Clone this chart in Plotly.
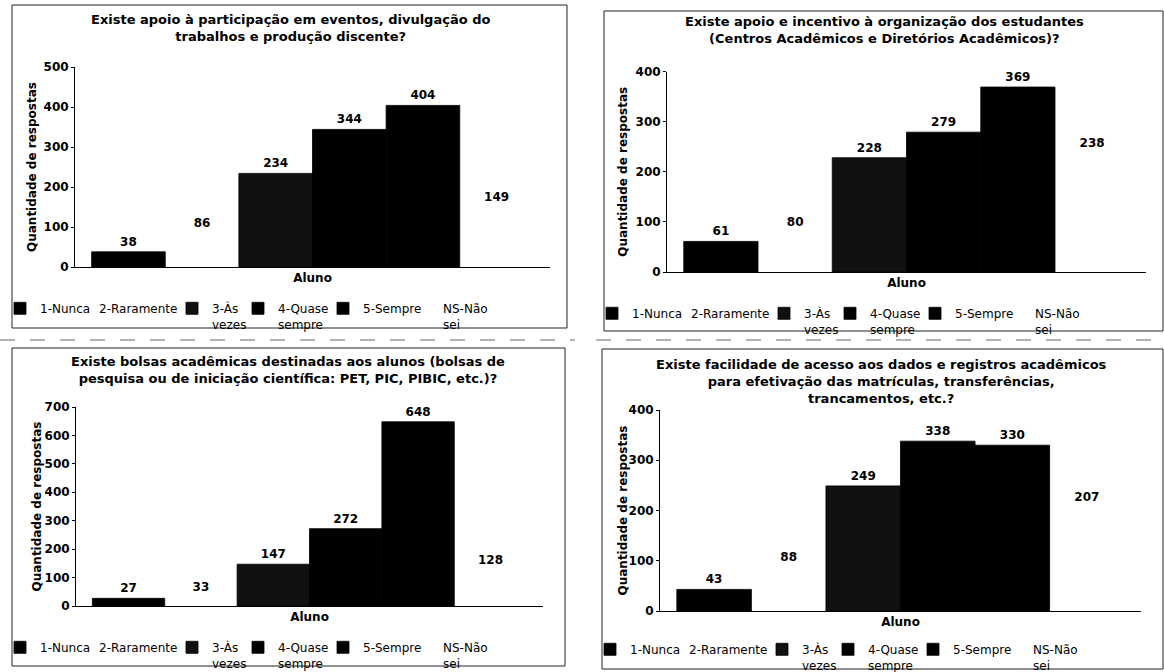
import plotly.graph_objects as go

# ---------------- data ----------------
categories = ["1-Nunca", "2-Raramente", "3-Às vezes", "4-Quase sempre", "5-Sempre", "NS-Não sei"]
legend_labels = ["1-Nunca", "2-Raramente", "3-Às<br>vezes", "4-Quase<br>sempre", "5-Sempre", "NS-Não<br>sei"]
group_label = ["Aluno"]

titles = [
    "Existe apoio à participação em eventos, divulgação do<br>trabalhos e produção discente?",
    "Existe apoio e incentivo à organização dos estudantes<br>(Centros Acadêmicos e Diretórios Acadêmicos)?",
    "Existe bolsas acadêmicas destinadas aos alunos (bolsas de<br>pesquisa ou de iniciação científica: PET, PIC, PIBIC, etc.)?",
    "Existe facilidade de acesso aos dados e registros acadêmicos<br>para efetivação das matrículas, transferências,<br>trancamentos, etc.?",
]
y_title = "Quantidade de respostas"

values_apoio_eventos = [38, 86, 234, 344, 404, 149]
values_org_estudantes = [61, 80, 228, 279, 369, 238]
values_bolsas = [27, 33, 147, 272, 648, 128]
values_acesso_dados = [43, 88, 249, 338, 330, 207]
panel_values = [values_apoio_eventos, values_org_estudantes, values_bolsas, values_acesso_dados]
y_max = [500, 400, 700, 400]

# ---------------- style / layout ----------------
W, H = 1164, 672
FONT = "DejaVu Sans"
bar_colors = ["#000000", "rgba(255,255,255,0)", "#111111", "#000000", "#000000", "rgba(255,255,255,0)"]
bar_line_w = [0.8, 0, 0.8, 0.8, 0.8, 0]
legend_widths = [14, 68, 21, 40, 35, 50]

panels = [
    dict(box=(12, 5, 567, 328), plot=(75, 67, 550, 267), title_xy=(290, 27.5),
         ytitle_x=32, legend_xy=(0, 294)),
    dict(box=(604, 11, 1163, 331), plot=(667, 71.5, 1146, 272), title_xy=(884, 29.5),
         ytitle_x=623, legend_xy=(592, 299)),
    dict(box=(12, 348, 565, 666), plot=(76, 407, 543, 606), title_xy=(288, 370),
         ytitle_x=36, legend_xy=(0, 633)),
    dict(box=(602, 349, 1163, 669), plot=(660, 410, 1141, 611), title_xy=(881, 381),
         ytitle_x=622, legend_xy=(590, 635)),
]


def fx(x):
    return x / W


def fy(y):
    return 1 - y / H


fig = go.Figure()
layout_extra = {}
annotations = []
shapes = []

for i, (vals, p) in enumerate(zip(panel_values, panels)):
    k = "" if i == 0 else str(i + 1)
    leg = "legend" if i == 0 else f"legend{i + 1}"
    for j, cat in enumerate(categories):
        fig.add_trace(go.Bar(
            x=group_label, y=[vals[j]], name=legend_labels[j],
            marker=dict(color=bar_colors[j], line=dict(color="#000", width=bar_line_w[j])),
            text=[vals[j]], textposition="outside", cliponaxis=False,
            textfont=dict(family=FONT, size=12, color="#000", weight="bold"),
            xaxis="x" + k, yaxis="y" + k, legend=leg, legendwidth=legend_widths[j],
            hovertemplate=cat + ": %{y}<extra></extra>",
        ))
    x0, y0, x1, y1 = p["plot"]
    layout_extra["xaxis" + k] = dict(
        domain=[fx(x0), fx(x1)], anchor="y" + k, type="category", range=[-0.5, 0.5],
        showline=True, linecolor="#000", linewidth=1, ticks="", showgrid=False,
        tickfont=dict(family=FONT, size=12, color="#000", weight="bold"), automargin=False,
    )
    layout_extra["yaxis" + k] = dict(
        domain=[fy(y1), fy(y0)], anchor="x" + k, range=[0, y_max[i]], dtick=100,
        showline=True, linecolor="#000", linewidth=1, ticks="outside", ticklen=3, tickcolor="#000",
        showgrid=False, zeroline=False,
        tickfont=dict(family=FONT, size=12, color="#000", weight="bold"), automargin=False,
    )
    lx, ly = p["legend_xy"]
    layout_extra[leg] = dict(
        orientation="h", x=fx(lx), y=fy(ly), xanchor="left", yanchor="top",
        font=dict(family=FONT, size=12, color="#000"), bgcolor="rgba(0,0,0,0)",
        valign="top", itemwidth=30, traceorder="normal", borderwidth=0,
    )
    tx, ty = p["title_xy"]
    annotations.append(dict(
        text=titles[i], x=fx(tx), y=fy(ty), xref="paper", yref="paper",
        xanchor="center", yanchor="middle", showarrow=False,
        font=dict(family=FONT, size=13, color="#000", weight="bold"),
    ))
    annotations.append(dict(
        text=y_title, x=fx(p["ytitle_x"]), y=fy((y0 + y1) / 2), xref="paper", yref="paper",
        xanchor="center", yanchor="middle", showarrow=False, textangle=-90,
        font=dict(family=FONT, size=12, color="#000", weight="bold"),
    ))
    bx0, by0, bx1, by1 = p["box"]
    shapes.append(dict(type="rect", xref="paper", yref="paper",
                       x0=fx(bx0), x1=fx(bx1), y0=fy(by1), y1=fy(by0),
                       line=dict(color="#222", width=1), fillcolor="rgba(0,0,0,0)"))

# faint scan separator lines between the rows
for sx0, sx1 in [(0, 575), (596, 1164)]:
    shapes.append(dict(type="line", xref="paper", yref="paper",
                       x0=fx(sx0), x1=fx(sx1), y0=fy(340), y1=fy(340),
                       line=dict(color="#666", width=1, dash="longdash")))

fig.update_layout(
    width=W, height=H, margin=dict(l=0, r=0, t=0, b=0, autoexpand=False),
    paper_bgcolor="#ffffff", plot_bgcolor="#ffffff",
    barmode="group", bargap=0.07, bargroupgap=0,
    font=dict(family=FONT, color="#000"),
    annotations=annotations, shapes=shapes, showlegend=True,
    **layout_extra,
)

# remove the browser's default 8px page margin so the figure fills the window exactly
fig.write_html("out.html", config={"displayModeBar": False},
               post_script="document.body.style.margin='0';")
